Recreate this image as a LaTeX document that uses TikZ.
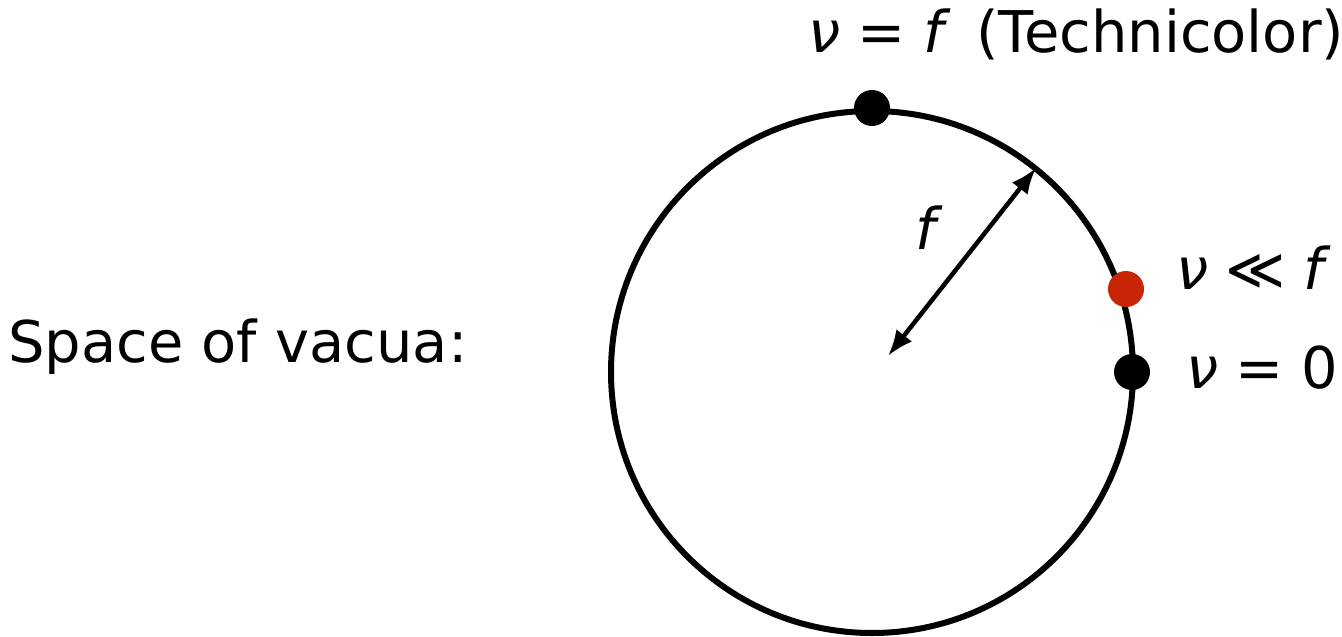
\documentclass[tikz,border=0pt]{standalone}
\usepackage{fontspec}
\setmainfont{DejaVu Sans}
\usetikzlibrary{arrows.meta}
\definecolor{dotred}{RGB}{200,37,6}
\newcommand{\rs}{\hspace{0.3em}}
\begin{document}
\begin{tikzpicture}[x=1pt,y=-1pt,
  lbl/.style={inner sep=0pt,font=\fontsize{57.5}{69}\selectfont},
  vdot/.style={circle,fill=black,minimum size=36pt,inner sep=0pt},
  rdot/.style={circle,fill=dotred,minimum size=36pt,inner sep=0pt},
  tip/.tip={Latex[length=26pt,width=20pt]}]
\useasboundingbox (0,0) rectangle (1342,637);
\node[draw,line width=6pt,circle,minimum size=522pt,inner sep=0pt] (c) at (872,372) {};
\node[vdot] (top) at (872,108) {};
\node[rdot] (red) at (1126,289) {};
\node[vdot] (zero) at (1132,372) {};
\coordinate (a1) at (888,356);
\coordinate (a2) at (1036,168);
\draw[line width=4.5pt,tip-tip] (a1) -- (a2);
\node[lbl,anchor=center] (flab) at (929,228) {\textit{f}};
\node[lbl,anchor=base west] (space) at (8,362) {Space of vacua:};
\node[lbl,anchor=base west] (tech) at (808,52) {\textit{ν}\rs=\rs\textit{f}\hspace{0.45em}(Technicolor)};
\node[lbl,anchor=base west] (small) at (1176,289) {\textit{ν}\rs≪\rs\textit{f}};
\node[lbl,anchor=base west] (vz) at (1186,388) {\textit{ν}\rs=\rs0};
\end{tikzpicture}
\end{document}
